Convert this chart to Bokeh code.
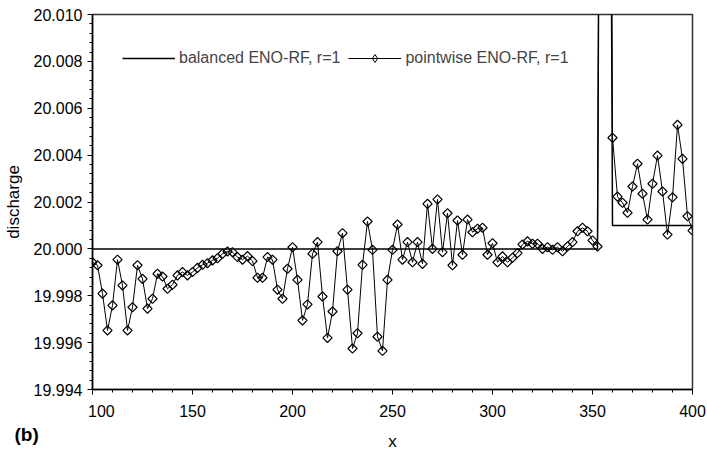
import numpy as np
from bokeh.plotting import figure
from bokeh.models import FixedTicker, PrintfTickFormatter, Legend, LegendItem, Title
from bokeh.embed import file_html
from bokeh.resources import INLINE

FONT = "Liberation Sans"

# grid of the computation (x from 100 to 400, step 2.5)
x_start = 100.0
x_step = 2.5

pointwise = [
    19.99943, 19.99930, 19.99809, 19.99652, 19.99759, 19.99954, 19.99844, 19.99652, 19.99751, 19.99930,
    19.99872, 19.99745, 19.99787, 19.99894, 19.99882, 19.99830, 19.99847, 19.99887, 19.99901, 19.99887,
    19.99901, 19.99919, 19.99932, 19.99939, 19.99951, 19.99960, 19.99979, 19.99989, 19.99986, 19.99965,
    19.99954, 19.99969, 19.99948, 19.99877, 19.99877, 19.99965, 19.99954, 19.99826, 19.99787, 19.99915,
    20.00007, 19.99868, 19.99695, 19.99763, 19.99979, 20.00029, 19.99797, 19.99620, 19.99733, 19.99990,
    20.00067, 19.99826, 19.99575, 19.99640, 19.99932, 20.00117, 19.99996, 19.99625, 19.99565, 19.99868,
    19.99996, 20.00104, 19.99954, 20.00029, 19.99943, 20.00029, 19.99936, 20.00192, 20.00000, 20.00211,
    19.99986, 20.00152, 19.99930, 20.00121, 19.99975, 20.00125, 20.00071, 20.00086, 20.00090, 19.99975,
    20.00024, 19.99943, 19.99968, 19.99943, 19.99962, 19.99982, 20.00019, 20.00032, 20.00022, 20.00022,
    20.00000, 20.00007, 19.99996, 20.00007, 19.99990, 20.00010, 20.00029, 20.00075, 20.00090, 20.00075,
    20.00036, 20.00010, 20.05000, 20.05000, 20.00474, 20.00223, 20.00197, 20.00154, 20.00266, 20.00363,
    20.00235, 20.00125, 20.00278, 20.00398, 20.00245, 20.00061, 20.00220, 20.00529, 20.00384, 20.00139,
    20.00078,
]

balanced = [20.0] * 102 + [20.05, 20.05] + [20.001] * 17

x = [x_start + x_step * i for i in range(len(pointwise))]

x_major = [100, 150, 200, 250, 300, 350, 400]
x_minor = list(range(100, 401, 10))
y_major = [19.994, 19.996, 19.998, 20.000, 20.002, 20.004, 20.006, 20.008, 20.010]
y_minor = [19.9940, 19.9944, 19.9948, 19.9952, 19.9956, 19.9960, 19.9964, 19.9968, 19.9972, 19.9976,
           19.9980, 19.9984, 19.9988, 19.9992, 19.9996, 20.0000, 20.0004, 20.0008, 20.0012, 20.0016,
           20.0020, 20.0024, 20.0028, 20.0032, 20.0036, 20.0040, 20.0044, 20.0048, 20.0052, 20.0056,
           20.0060, 20.0064, 20.0068, 20.0072, 20.0076, 20.0080, 20.0084, 20.0088, 20.0092, 20.0096,
           20.0100]

p = figure(width=707, height=453, x_range=(100, 400), y_range=(19.994, 20.010),
           output_backend="svg", toolbar_location=None,
           min_border_left=92, min_border_right=15, min_border_top=14, min_border_bottom=64)

p.xgrid.visible = False
p.ygrid.visible = False
p.outline_line_color = "#333333"
p.outline_line_width = 1.5
p.background_fill_color = "white"
p.border_fill_color = "white"

for ax in (p.xaxis[0], p.yaxis[0]):
    ax.axis_line_color = "black"
    ax.axis_line_width = 1.5
    ax.major_tick_line_color = "black"
    ax.minor_tick_line_color = "black"
    ax.major_tick_in = 0
    ax.major_tick_out = 5
    ax.minor_tick_in = 0
    ax.minor_tick_out = 3
    ax.major_label_text_font = FONT
    ax.major_label_text_font_size = "16px"
    ax.major_label_text_color = "black"
    ax.axis_label_text_font = FONT
    ax.axis_label_text_font_size = "17px"
    ax.axis_label_text_font_style = "normal"
    ax.axis_label_text_color = "black"

p.xaxis.ticker = FixedTicker(ticks=x_major, minor_ticks=x_minor)
p.yaxis.ticker = FixedTicker(ticks=y_major, minor_ticks=y_minor)
p.yaxis.formatter = PrintfTickFormatter(format="%.3f")
# first x label sits a little to the right of its tick, clear of the y labels
p.xaxis.major_label_overrides = {100: "\u00a0\u00a0\u00a0\u00a0100"}
p.xaxis.major_label_standoff = 8
p.yaxis.major_label_standoff = 5
p.yaxis.axis_label = "discharge"
p.yaxis.axis_label_standoff = 8

r_bal = p.line(x, balanced, line_color="black", line_width=1.5)
r_pw_line = p.line(x, pointwise, line_color="black", line_width=1)
r_pw_pts = p.scatter(x, pointwise, marker="square", angle=np.pi / 4, size=6.5,
                     line_color="black", fill_color=None, line_width=1.2)
# diamond swatch for the legend (its only point lies above the visible range)
r_pw_key = p.scatter([x[102]], [pointwise[102]], marker="diamond", size=8,
                     line_color="black", fill_color=None, line_width=1)

legend = Legend(items=[LegendItem(label="balanced ENO-RF, r=1", renderers=[r_bal]),
                       LegendItem(label="pointwise ENO-RF, r=1", renderers=[r_pw_line, r_pw_key])],
                orientation="horizontal", location=(30, 321),
                glyph_width=53, glyph_height=20, label_standoff=4, spacing=8,
                padding=0, margin=0, border_line_alpha=0, background_fill_alpha=0,
                label_text_font=FONT, label_text_font_size="16px")
p.add_layout(legend)

# panel tag "(b)" and the x-axis title, stacked below the tick labels
panel_tag = Title(text="(b)", align="left", vertical_align="top", offset=-78, standoff=3,
                  text_font=FONT, text_font_size="19px", text_font_style="bold", text_color="black")
p.add_layout(panel_tag, "below")
x_title = Title(text="x", align="center", vertical_align="top", standoff=-34,
                text_font=FONT, text_font_size="17px", text_font_style="normal", text_color="black")
p.add_layout(x_title, "below")

open("out.html", "w").write(file_html(p, INLINE))
